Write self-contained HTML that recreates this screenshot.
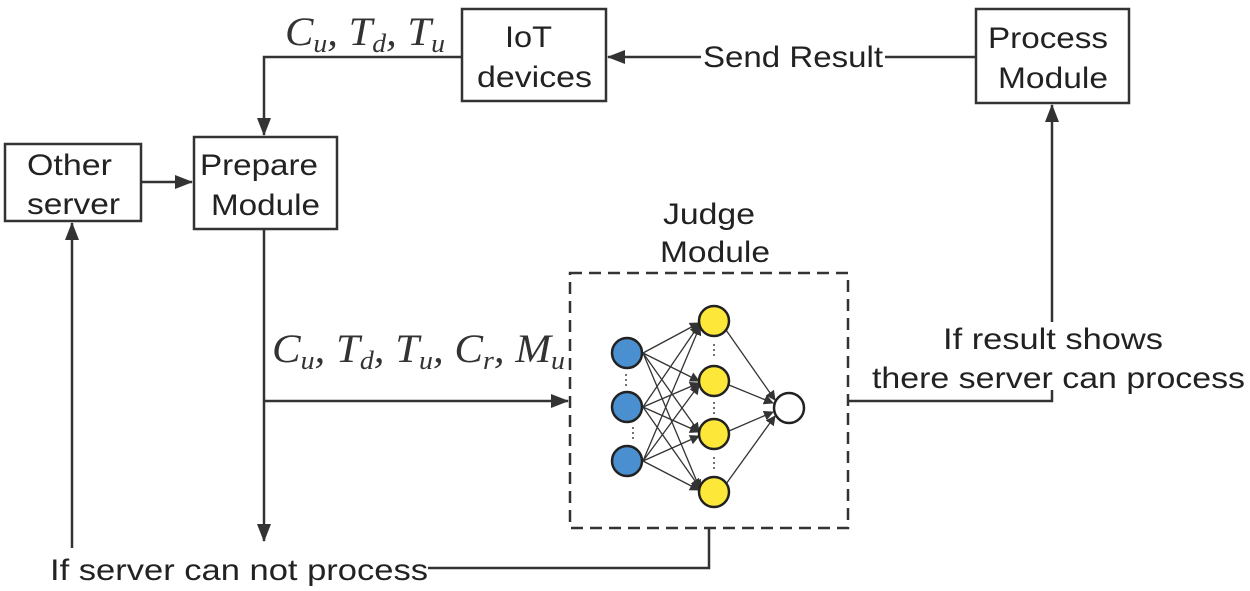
<!DOCTYPE html>
<html><head><meta charset="utf-8"><style>
body{margin:0;background:#fff}
svg{display:block}
.t{font-family:"Liberation Sans",sans-serif;font-size:30px;fill:#222}
.m{font-family:"Liberation Serif",serif;font-style:italic;font-size:40px;fill:#333}
.s{font-size:26px}
</style></head><body>
<svg width="1250" height="591" viewBox="0 0 1250 591">
<defs>
<marker id="a" markerWidth="10" markerHeight="10" refX="9" refY="5" orient="auto" markerUnits="userSpaceOnUse"><path d="M0,0 L10,5 L0,10 z" fill="#333"/></marker>
<marker id="A" markerWidth="18" markerHeight="14" refX="17" refY="7" orient="auto" markerUnits="userSpaceOnUse"><path d="M0,0 L18,7 L0,14 z" fill="#333"/></marker>
</defs>
<g stroke="#333" stroke-width="2.5" fill="none">
<rect x="5" y="144" width="136" height="77" fill="#fff"/>
<rect x="194" y="137" width="143" height="92" fill="#fff"/>
<rect x="462" y="9" width="144" height="92" fill="#fff"/>
<rect x="976" y="9" width="153" height="94" fill="#fff"/>
<rect x="570" y="273" width="278" height="255" stroke-dasharray="12,7"/>
<polyline points="462,57 264,57 264,135" marker-end="url(#A)"/>
<line x1="976" y1="57" x2="608" y2="57" marker-end="url(#A)"/>
<line x1="141" y1="182" x2="192" y2="182" marker-end="url(#A)"/>
<line x1="264" y1="229" x2="264" y2="541" marker-end="url(#A)"/>
<line x1="264" y1="401" x2="568" y2="401" marker-end="url(#A)"/>
<polyline points="848,401 1052,401 1052,105" marker-end="url(#A)"/>
<polyline points="428,568 709,568 709,528"/>
<line x1="72" y1="548" x2="72" y2="223" marker-end="url(#A)"/>
</g>
<rect x="701" y="40" width="184" height="34" fill="#fff"/>
<rect x="870" y="322" width="378" height="68" fill="#fff"/>
<g class="t" lengthAdjust="spacingAndGlyphs">
<text x="703" y="67" textLength="180" lengthAdjust="spacingAndGlyphs">Send Result</text>
<text x="27" y="175" textLength="85" lengthAdjust="spacingAndGlyphs">Other</text>
<text x="27" y="214" textLength="93" lengthAdjust="spacingAndGlyphs">server</text>
<text x="200" y="175" textLength="118" lengthAdjust="spacingAndGlyphs">Prepare</text>
<text x="211" y="215" textLength="109" lengthAdjust="spacingAndGlyphs">Module</text>
<text x="505" y="47" textLength="47" lengthAdjust="spacingAndGlyphs">IoT</text>
<text x="477" y="87" textLength="115" lengthAdjust="spacingAndGlyphs">devices</text>
<text x="988" y="48" textLength="120" lengthAdjust="spacingAndGlyphs">Process</text>
<text x="998" y="88" textLength="110" lengthAdjust="spacingAndGlyphs">Module</text>
<text x="663" y="224" textLength="92" lengthAdjust="spacingAndGlyphs">Judge</text>
<text x="660" y="262" textLength="110" lengthAdjust="spacingAndGlyphs">Module</text>
<text x="943" y="349" textLength="220" lengthAdjust="spacingAndGlyphs">If result shows</text>
<text x="872" y="388" textLength="373" lengthAdjust="spacingAndGlyphs">there server can process</text>
<text x="50" y="580" textLength="378" lengthAdjust="spacingAndGlyphs">If server can not process</text>
</g>
<text class="m" x="285" y="45" textLength="160" lengthAdjust="spacingAndGlyphs">C<tspan class="s" dy="7">u</tspan><tspan dy="-7">, T</tspan><tspan class="s" dy="7">d</tspan><tspan dy="-7">, T</tspan><tspan class="s" dy="7">u</tspan></text>
<text class="m" x="272" y="362" textLength="293" lengthAdjust="spacingAndGlyphs">C<tspan class="s" dy="7">u</tspan><tspan dy="-7">, T</tspan><tspan class="s" dy="7">d</tspan><tspan dy="-7">, T</tspan><tspan class="s" dy="7">u</tspan><tspan dy="-7">, C</tspan><tspan class="s" dy="7">r</tspan><tspan dy="-7">, M</tspan><tspan class="s" dy="7">u</tspan></text>
<g stroke="#333" stroke-width="1.3">
<g marker-end="url(#a)">
<line x1="643" y1="353" x2="699" y2="323"/><line x1="643" y1="353" x2="699" y2="381"/><line x1="643" y1="353" x2="699" y2="432"/><line x1="643" y1="353" x2="700" y2="489"/>
<line x1="643" y1="407" x2="699" y2="325"/><line x1="643" y1="407" x2="699" y2="383"/><line x1="643" y1="407" x2="699" y2="432"/><line x1="643" y1="407" x2="700" y2="488"/>
<line x1="643" y1="461" x2="700" y2="326"/><line x1="643" y1="461" x2="699" y2="385"/><line x1="643" y1="461" x2="699" y2="436"/><line x1="643" y1="461" x2="699" y2="490"/>
<line x1="726" y1="330" x2="775" y2="400"/><line x1="729" y1="385" x2="773" y2="403"/><line x1="729" y1="431" x2="773" y2="412"/><line x1="726" y1="484" x2="775" y2="416"/>
</g>
</g>
<g stroke="#222" stroke-width="2.5">
<circle cx="627" cy="353" r="15" fill="#4a8fcf"/><circle cx="627" cy="407" r="15" fill="#4a8fcf"/><circle cx="627" cy="461" r="15" fill="#4a8fcf"/>
<circle cx="714" cy="321" r="15" fill="#fde83a"/><circle cx="714" cy="381" r="15" fill="#fde83a"/><circle cx="714" cy="434" r="15" fill="#fde83a"/><circle cx="714" cy="492" r="15" fill="#fde83a"/>
<circle cx="789" cy="408" r="15" fill="#fff"/>
</g>
<g fill="#444">
<circle cx="626" cy="375" r="1"/><circle cx="626" cy="380" r="1"/><circle cx="626" cy="385" r="1"/>
<circle cx="633" cy="428" r="1"/><circle cx="633" cy="433" r="1"/><circle cx="633" cy="438" r="1"/>
<circle cx="714" cy="345" r="1"/><circle cx="714" cy="350" r="1"/><circle cx="714" cy="355" r="1"/>
<circle cx="714" cy="403" r="1"/><circle cx="714" cy="408" r="1"/><circle cx="714" cy="413" r="1"/>
<circle cx="714" cy="458" r="1"/><circle cx="714" cy="463" r="1"/><circle cx="714" cy="468" r="1"/>
</g>
</svg>
</body></html>
